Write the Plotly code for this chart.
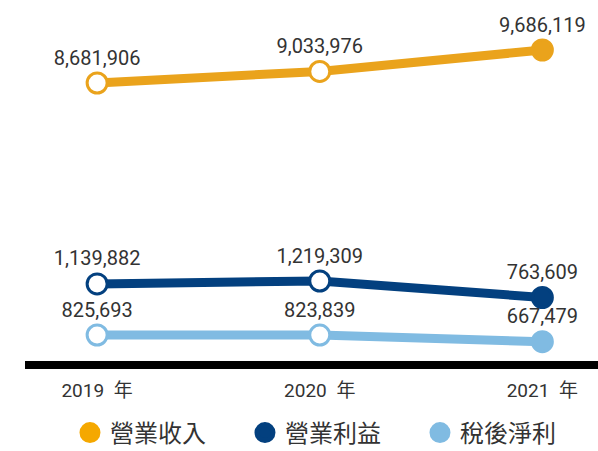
import plotly.graph_objects as go

years = [2019, 2020, 2021]
tick_labels = ["2019\u2002年", "2020\u2002年", "2021\u2002年"]
series_names = ["營業收入", "營業利益", "稅後淨利"]
revenue = [8681906, 9033976, 9686119]
op_income = [1139882, 1219309, 763609]
net_income = [825693, 823839, 667479]

line_colors = ["#EAA31C", "#03407F", "#80BBE2"]
legend_colors = ["#F5A800", "#03407F", "#80BBE2"]
axis_ranges = [[222078, 11207669], [-990098, 8980000], [211746, 8736400]]
axes = ["y", "y2", "y3"]
values = [revenue, op_income, net_income]

FONT = "Roboto, Noto Sans CJK TC, sans-serif"
CJK = "Noto Sans CJK TC, sans-serif"
fig = go.Figure()
for name, vals, col, ax in zip(series_names, values, line_colors, axes):
    fills = ["white"] * (len(vals) - 1) + [col]
    fig.add_trace(go.Scatter(
        x=years, y=vals, yaxis=ax, mode="lines+markers+text",
        text=[f"{v:,}" for v in vals], textposition="top center",
        textfont=dict(size=20, color="#333333", family=FONT),
        line=dict(color=col, width=9),
        marker=dict(size=20, color=fills, line=dict(color=col, width=3)),
        showlegend=False, cliponaxis=False, hoverinfo="skip"))

for name, col in zip(series_names, legend_colors):
    fig.add_trace(go.Scatter(x=[None], y=[None], mode="markers", name=name,
                             marker=dict(size=16, color=col, symbol="circle",
                                         line=dict(color=col, width=5))))

fig.update_layout(
    width=598, height=451, margin=dict(l=25, r=0, t=0, b=90, autoexpand=False),
    paper_bgcolor="white", plot_bgcolor="white",
    font=dict(family=FONT, color="#333333"),
    xaxis=dict(range=[2018.676, 2021.25], tickvals=years, ticktext=tick_labels,
               showgrid=False, zeroline=False, showline=True, linecolor="black",
               linewidth=8, ticks="", tickfont=dict(size=19, color="#333333"),
               ticklabelstandoff=5, automargin=False),
    yaxis=dict(range=axis_ranges[0], visible=False),
    yaxis2=dict(range=axis_ranges[1], visible=False, overlaying="y"),
    yaxis3=dict(range=axis_ranges[2], visible=False, overlaying="y"),
    legend=dict(orientation="h", x=0.0785, xanchor="left", y=-0.137, yanchor="top",
                font=dict(size=24, color="#333333", family=CJK),
                itemsizing="trace", tracegroupgap=0, entrywidth=130,
                entrywidthmode="pixels"),
)
fig.write_html("out.html", config={"displayModeBar": False},
               post_script="document.body.style.margin='0';")
